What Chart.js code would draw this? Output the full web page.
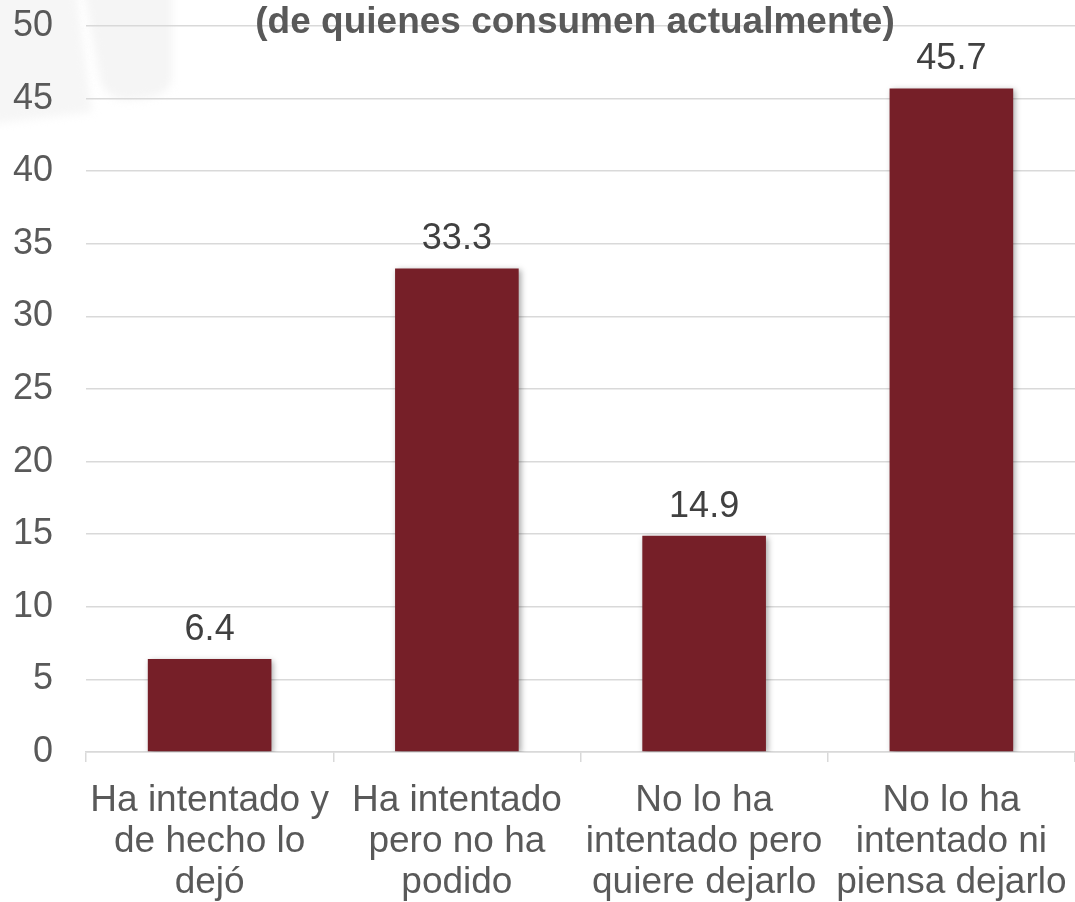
<!DOCTYPE html>
<html>
<head>
<meta charset="utf-8">
<script src="https://cdn.jsdelivr.net/npm/chart.js@4"></script>
<style>
html,body{margin:0;padding:0;background:#fff;}
#wrap{width:1075px;height:902px;position:relative;}
</style>
</head>
<body>
<div id="wrap"><canvas id="c" width="1075" height="902"></canvas></div>
<script>
const categories = [
  ["Ha intentado y", "de hecho lo", "dejó"],
  ["Ha intentado", "pero no ha", "podido"],
  ["No lo ha", "intentado pero", "quiere dejarlo"],
  ["No lo ha", "intentado ni", "piensa dejarlo"]
];
const values = [6.4, 33.3, 14.9, 45.7];
const yTicks = [0, 5, 10, 15, 20, 25, 30, 35, 40, 45, 50];
const titleText = "(de quienes consumen actualmente)";

const FONT = "'Liberation Sans', Arial, sans-serif";

const watermarkPlugin = {
  id: 'watermark',
  beforeDraw(chart) {
    const ctx = chart.ctx;
    ctx.save();
    ctx.filter = 'blur(4px)';
    ctx.fillStyle = '#f6f6f6';
    ctx.beginPath();
    ctx.moveTo(-10, -10);
    ctx.lineTo(76, -10);
    ctx.lineTo(92, 112);
    ctx.lineTo(-10, 124);
    ctx.closePath();
    ctx.fill();
    ctx.fillStyle = '#f5f5f5';
    ctx.beginPath();
    ctx.moveTo(84, -10);
    ctx.lineTo(172, -10);
    ctx.lineTo(172, 80);
    ctx.quadraticCurveTo(168, 100, 125, 100);
    ctx.quadraticCurveTo(106, 98, 100, 80);
    ctx.closePath();
    ctx.fill();
    ctx.restore();
  }
};

const shadowPlugin = {
  id: 'barShadow',
  beforeDatasetDraw(chart) {
    const ctx = chart.ctx;
    ctx.save();
    ctx.shadowColor = 'rgba(0,0,0,0.35)';
    ctx.shadowBlur = 6;
    ctx.shadowOffsetX = 2;
    ctx.shadowOffsetY = 2;
  },
  afterDatasetDraw(chart) {
    chart.ctx.restore();
  }
};

const labelPlugin = {
  id: 'labels',
  afterDatasetsDraw(chart) {
    const ctx = chart.ctx;
    const meta = chart.getDatasetMeta(0);
    ctx.save();
    ctx.font = "36px " + FONT;
    ctx.fillStyle = '#404040';
    ctx.textAlign = 'center';
    ctx.textBaseline = 'alphabetic';
    meta.data.forEach((bar, i) => {
      ctx.fillText(values[i].toFixed(1), bar.x, bar.y - 19);
    });
    ctx.restore();
  },
  afterDraw(chart) {
    const ctx = chart.ctx;
    ctx.save();
    ctx.font = "bold 37px " + FONT;
    ctx.fillStyle = '#595959';
    ctx.textAlign = 'center';
    ctx.textBaseline = 'alphabetic';
    ctx.fillText(titleText, 575, 33);
    ctx.restore();
  }
};

new Chart(document.getElementById('c'), {
  type: 'bar',
  data: {
    labels: categories,
    datasets: [{
      data: values,
      backgroundColor: '#761F28',
      borderWidth: 0,
      barPercentage: 0.5,
      categoryPercentage: 1.0
    }]
  },
  options: {
    responsive: false,
    animation: false,
    devicePixelRatio: 1,
    layout: { padding: { top: 26, left: 0, right: 0, bottom: 0 } },
    plugins: {
      legend: { display: false },
      tooltip: { enabled: false },
      title: { display: false }
    },
    scales: {
      x: {
        grid: {
          offset: true,
          drawOnChartArea: false,
          drawTicks: true,
          tickLength: 10,
          color: '#d9d9d9',
          lineWidth: 1.5
        },
        border: { color: '#d9d9d9', width: 1.5 },
        ticks: {
          color: '#595959',
          font: { family: FONT, size: 37, lineHeight: 1.11 },
          padding: 18,
          maxRotation: 0,
          autoSkip: false
        },
        afterFit(scale) {
          scale.height = 150;
          scale.paddingLeft = 0; scale.paddingRight = 0;
        }
      },
      y: {
        min: 0,
        max: 50,
        afterBuildTicks(scale) { scale.ticks = yTicks.map(v => ({ value: v })); },
        grid: {
          drawTicks: false,
          color: '#d9d9d9',
          lineWidth: 1.5
        },
        border: { display: false },
        ticks: {
          color: '#595959',
          font: { family: FONT, size: 36 },
          padding: 33
        },
        afterFit(scale) {
          scale.width = 86;
          scale.paddingTop = 0; scale.paddingBottom = 0;
        }
      }
    }
  },
  plugins: [watermarkPlugin, shadowPlugin, labelPlugin]
});
</script>
</body>
</html>
